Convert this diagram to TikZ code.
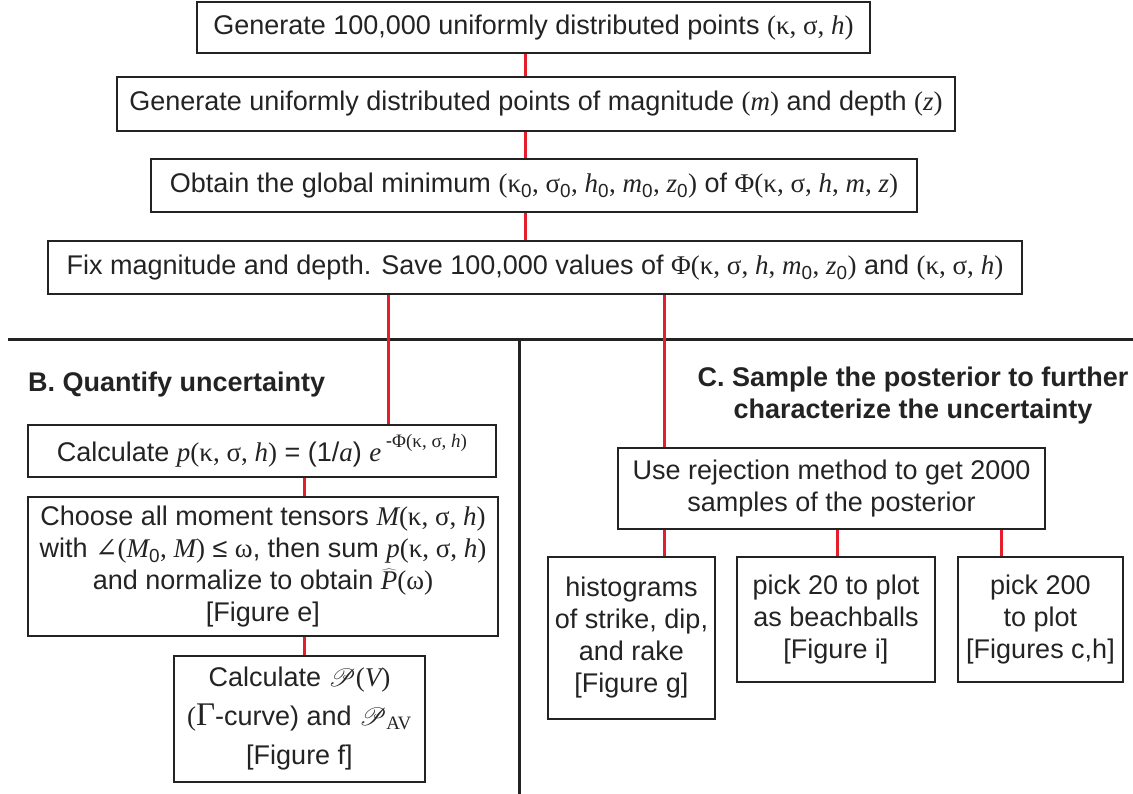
\documentclass[tikz,border=0pt]{standalone}
\usepackage{fontspec}
\setmainfont{Liberation Sans}
\newfontfamily\serifgr{Liberation Serif}
\newfontfamily\anglefont{DejaVu Serif}
\usepackage{mathrsfs}
\newcommand\mi[1]{{\serifgr\itshape #1}}
\newcommand\gk[1]{{\serifgr #1}}
\newcommand\zs{\textsubscript{0}}
\definecolor{linkred}{RGB}{228,30,42}
\definecolor{ink}{RGB}{35,35,35}
\begin{document}
\begin{tikzpicture}[x=1pt,y=-1pt,
  box/.style={draw=ink, line width=1.8pt, align=center, inner sep=0pt, text=ink,
    font=\fontsize{27}{32}\selectfont},
  link/.style={draw=linkred, line width=3pt},
  rule/.style={draw=ink, line width=3pt},
  head/.style={align=center, inner sep=0pt, text=ink, font=\bfseries\fontsize{27}{32}\selectfont}]
\useasboundingbox (0,0) rectangle (1133,794);

% top boxes
\node[box, minimum width=673pt, minimum height=51pt] (b1) at (533.5,27.5)
  {Generate 100,000 uniformly distributed points \gk{(κ, σ, }\mi{h}\gk{)}};
\node[box, minimum width=838pt, minimum height=54pt] (b2) at (536,104)
  {Generate uniformly distributed points of magnitude \gk{(}\mi{m}\gk{)} and depth \gk{(}\mi{z}\gk{)}};
\node[box, minimum width=766pt, minimum height=53pt] (b3) at (534,185.5)
  {Obtain the global minimum \gk{(κ}\zs\gk{, σ}\zs\gk{, }\mi{h}\zs\gk{, }\mi{m}\zs\gk{, }\mi{z}\zs\gk{)} of \gk{Φ(κ, σ, }\mi{h}\gk{, }\mi{m}\gk{, }\mi{z}\gk{)}};
\node[box, minimum width=974pt, minimum height=53pt] (b4) at (535,267.5)
  {Fix magnitude and depth. Save 100,000 values of \gk{Φ(κ, σ, }\mi{h}\gk{, }\mi{m}\zs\gk{, }\mi{z}\zs\gk{)} and \gk{(κ, σ, }\mi{h}\gk{)}};

\coordinate (spine) at (525,0);
\coordinate (lb) at (388,0);
\coordinate (lc) at (664,0);
\coordinate (lq) at (304,0);
\coordinate (c2x) at (837,0);
\coordinate (c3x) at (1001,0);

% dividers
\coordinate (hl) at (8,340);
\coordinate (hr) at (1133,340);
\coordinate (vt) at (519,340);
\coordinate (vb) at (519,794);
\draw[rule] (hl) -- (hr);
\draw[rule] (vt) -- (vb);

% part B
\node[head, anchor=west] (bh) at (28,385) {B. Quantify uncertainty};
\node[box, minimum width=468pt, minimum height=52pt] (q1) at (262,451)
  {Calculate \mi{p}\gk{(κ, σ, }\mi{h}\gk{)} = (1/\mi{a}) \mi{e}\,\raisebox{0.5em}{\fontsize{19}{19}\selectfont -\gk{Φ(κ, σ, }\mi{h}\gk{)}}};
\node[box, minimum width=470pt, minimum height=139pt] (q2) at (263,566.5)
  {Choose all moment tensors \mi{M}\gk{(κ, σ, }\mi{h}\gk{)}\\
   with {\anglefont ∠}\gk{(}\mi{M}\zs\gk{, }\mi{M}\gk{)} ≤ \gk{ω}, then sum \mi{p}\gk{(κ, σ, }\mi{h}\gk{)}\\
   and normalize to obtain \smash{$\widehat{\mbox{\mi{P}}}$}\gk{(ω)}\\
   {[Figure e]}};
\node[box, minimum width=251pt, minimum height=126pt, font=\fontsize{27}{39}\selectfont] (q3) at (299.5,719)
  {Calculate $\mathscr{P}$\gk{(}\mi{V}\gk{)}\\
   \gk{(}{\serifgr\fontsize{33}{33}\selectfont Γ}-curve) and $\mathscr{P}$\textsubscript{\serifgr AV}\\
   {[Figure f]}};

% part C
\node[head] (ch) at (913,396) {C. Sample the posterior to further\\characterize the uncertainty};
\node[box, minimum width=427pt, minimum height=81pt] (r) at (831.5,488.5)
  {Use rejection method to get 2000\\samples of the posterior};
\node[box, minimum width=167pt, minimum height=162pt] (c1) at (631.5,638)
  {histograms\\of strike, dip,\\and rake\\{[Figure g]}};
\node[box, minimum width=198pt, minimum height=125pt] (c2) at (836,619.5)
  {pick 20 to plot\\as beachballs\\{[Figure i]}};
\node[box, minimum width=165pt, minimum height=125pt] (c3) at (1040.5,619.5)
  {pick 200\\to plot\\{[Figures c,h]}};

% connectors
\draw[link] (b1.south -| spine) -- (b2.north -| spine);
\draw[link] (b2.south -| spine) -- (b3.north -| spine);
\draw[link] (b3.south -| spine) -- (b4.north -| spine);
\draw[link] (b4.south -| lb) -- (q1.north -| lb);
\draw[link] (b4.south -| lc) -- (r.north -| lc);
\draw[link] (q1.south -| lq) -- (q2.north -| lq);
\draw[link] (q2.south -| lq) -- (q3.north -| lq);
\draw[link] (r.south -| lc) -- (c1.north -| lc);
\draw[link] (r.south -| c2x) -- (c2.north -| c2x);
\draw[link] (r.south -| c3x) -- (c3.north -| c3x);
\end{tikzpicture}
\end{document}
